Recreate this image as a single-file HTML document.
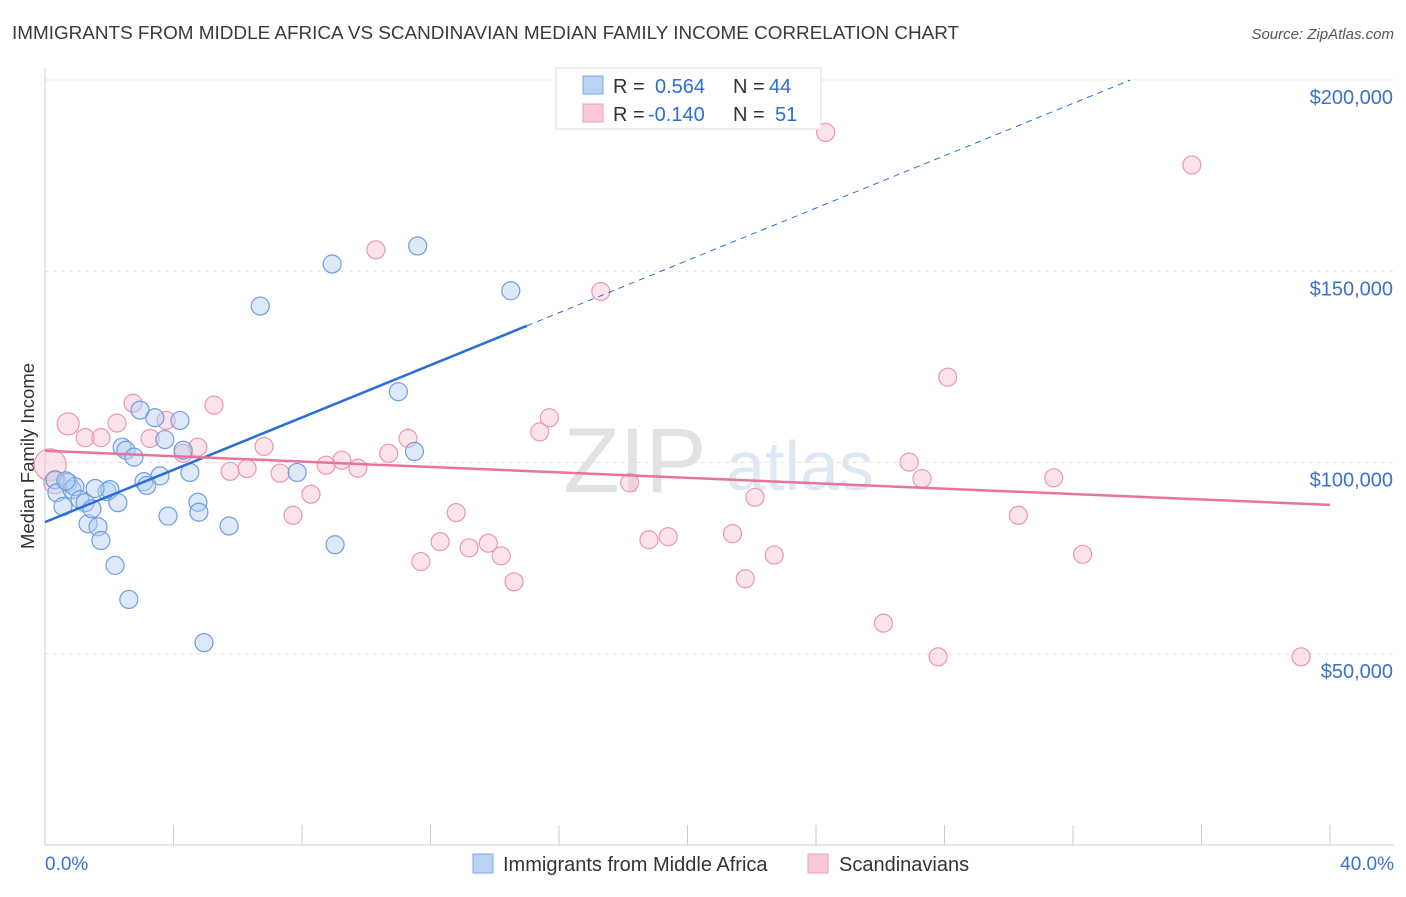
<!DOCTYPE html>
<html><head><meta charset="utf-8"><style>
body{margin:0;background:#fff;font-family:"Liberation Sans",sans-serif;}
svg text{font-family:"Liberation Sans",sans-serif;}
</style></head><body>
<svg id="chart" width="1406" height="892" xmlns="http://www.w3.org/2000/svg">
<text x="12" y="39" font-size="18.9" fill="#3a3a3a">IMMIGRANTS FROM MIDDLE AFRICA VS SCANDINAVIAN MEDIAN FAMILY INCOME CORRELATION CHART</text>
<text x="1394" y="39" font-size="15" fill="#555" text-anchor="end" font-style="italic">Source: ZipAtlas.com</text>
<g id="grid"></g>
<text x="635" y="492" font-size="92" fill="#e2e2e2" font-family="Liberation Serif" text-anchor="middle">ZIP</text>
<text x="800" y="490" font-size="70" fill="#dde8f5" text-anchor="middle">atlas</text>
<g id="ticks"></g>
<line x1="45" y1="68" x2="45" y2="845" stroke="#ccc"/>
<line x1="45" y1="845" x2="1394" y2="845" stroke="#ccc"/>
<g id="xt"></g>
<text x="45" y="870" font-size="19" fill="#3a73c9">0.0%</text>
<text x="1394" y="870" font-size="19" fill="#3a73c9" text-anchor="end">40.0%</text>
<text transform="translate(34,456) rotate(-90)" font-size="18.5" fill="#333" text-anchor="middle">Median Family Income</text>
<g id="pts"></g>
<g id="lines"></g>
<g>
<rect x="556" y="68" width="265" height="61" fill="#fff" stroke="#ddd"/>
<rect x="583" y="76" width="20" height="18" fill="#b9d3f5" stroke="#7ea7e3"/>
<rect x="583" y="104" width="20" height="18" fill="#fbc9d7" stroke="#ee9fb8"/>
<text x="613" y="93" font-size="20" fill="#333">R =</text>
<text x="655" y="93" font-size="20" fill="#2a6fd6">0.564</text>
<text x="733" y="93" font-size="20" fill="#333">N =</text>
<text x="769" y="93" font-size="20" fill="#2a6fd6">44</text>
<text x="613" y="121" font-size="20" fill="#333">R =</text>
<text x="648" y="121" font-size="20" fill="#2a6fd6">-0.140</text>
<text x="733" y="121" font-size="20" fill="#333">N =</text>
<text x="775" y="121" font-size="20" fill="#2a6fd6">51</text>
</g>
<g>
<rect x="473" y="854" width="20" height="19" fill="#b9d3f5" stroke="#7ea7e3"/>
<text x="503" y="871" font-size="20" fill="#333">Immigrants from Middle Africa</text>
<rect x="808" y="854" width="20" height="19" fill="#fbc9d7" stroke="#ee9fb8"/>
<text x="839" y="871" font-size="20" fill="#333">Scandinavians</text>
</g>
</svg>
<script>
const yTicks=[50000,100000,150000,200000];
const yTickLabels=["$50,000","$100,000","$150,000","$200,000"];
const blueX=[0.31,0.37,0.56,0.72,0.84,0.93,1.09,1.25,1.34,1.46,1.65,1.74,1.93,2.02,2.18,2.27,2.40,2.52,2.61,2.77,2.96,3.08,3.17,3.42,3.58,3.73,3.83,4.20,4.30,4.51,4.76,4.79,4.95,5.73,6.70,7.85,8.94,9.03,11.0,11.5,11.6,14.5,0.65,1.56];
const blueY=[95500,92100,88500,94800,92900,93700,90300,89500,84000,87900,83200,79600,92400,92900,73100,89500,104000,103200,64200,101400,113700,95000,94000,111700,96500,106000,86000,111000,103200,97400,89600,87000,52900,83400,140900,97400,151900,78500,118500,102900,156600,144900,95200,93200];
const pinkX=[0.16,0.31,0.72,1.25,1.74,2.24,2.74,3.27,3.77,4.30,4.76,5.26,5.76,6.29,6.82,7.32,7.72,8.28,8.75,9.24,9.74,10.3,10.7,11.3,11.7,12.3,12.8,13.2,13.8,14.2,14.6,15.4,15.7,17.3,18.2,18.8,19.4,21.4,21.8,22.1,22.7,24.3,26.1,26.9,27.3,27.8,28.1,30.3,31.4,32.3,35.7,39.1];
const pinkY=[99400,94700,110100,106500,106500,110300,115500,106300,111000,102400,104000,115000,97700,98400,104200,97200,86200,91700,99300,100600,98500,155600,102400,106300,74100,79300,86900,77700,78900,75600,68800,108000,111700,144700,94700,79800,80600,81400,69600,90900,75800,186300,58000,100100,95800,49200,122300,86200,96000,76000,177800,49200];
const SVGNS="http://www.w3.org/2000/svg";
const X0=45,X1=1330,Y0=845,Y1=80;
function sx(v){return X0+(v/40)*(X1-X0);}
function sy(v){return Y0-(v/200000)*(Y0-Y1);}
function mk(tag,attrs,parent){const e=document.createElementNS(SVGNS,tag);for(const k in attrs)e.setAttribute(k,attrs[k]);parent.appendChild(e);return e;}
const grid=document.getElementById('grid'),ticks=document.getElementById('ticks'),xt=document.getElementById('xt');
yTicks.forEach((t,i)=>{
 const l=mk('line',{x1:45,x2:1394,y1:sy(t),y2:sy(t),stroke:'#e2e2e2','stroke-dasharray':'4,4'},grid);
 
 
 const tx=mk('text',{x:1393,y:sy(t)+24,'font-size':20,fill:'#3a73c9','text-anchor':'end'},ticks);
 tx.textContent=yTickLabels[i];
 
 
});
for(let i=0;i<=10;i++){
 const l=mk('line',{x1:sx(i*4),x2:sx(i*4),y1:825,y2:845,stroke:'#ccc'},xt);
 
 
}
const pts=document.getElementById('pts');
function dots(xs,ys,fill,stroke,name){
 xs.forEach((x,i)=>{
  const r=(i===0&&name==='pink-point')?16:(x<1&&name==='pink-point'?11:9);
  const c=mk('circle',{cx:sx(x),cy:sy(ys[i]),r:r,fill:fill,'fill-opacity':0.45,stroke:stroke,'stroke-width':1.2},pts);
  
  
 });
}
dots(pinkX,pinkY,'#f8bfd0','#e997b0','pink-point');
dots(blueX,blueY,'#b4cef2','#6f9ee0','blue-point');
function fit(xs,ys){const n=xs.length;let mx=0,my=0;xs.forEach((x,i)=>{mx+=x;my+=ys[i];});mx/=n;my/=n;let a=0,b=0;xs.forEach((x,i)=>{a+=(x-mx)*(ys[i]-my);b+=(x-mx)**2;});const s=a/b;return [s,my-s*mx];}
const lines=document.getElementById('lines');
const [bs,bi]=fit(blueX,blueY);
const xEnd=15;
let l1=mk('line',{x1:sx(0),y1:sy(bi),x2:sx(xEnd),y2:sy(bi+bs*xEnd),stroke:'#2a6fd6','stroke-width':2.5},lines);


const xTop=Math.min(40,(200000-bi)/bs);
let l2=mk('line',{x1:sx(xEnd),y1:sy(bi+bs*xEnd),x2:sx(xTop),y2:sy(bi+bs*xTop),stroke:'#2a6fd6','stroke-width':1,'stroke-dasharray':'6,5'},lines);


const [ps,pi]=fit(pinkX,pinkY);
let l3=mk('line',{x1:sx(0),y1:sy(pi),x2:sx(40),y2:sy(pi+ps*40),stroke:'#e8739c','stroke-width':2.5},lines);


</script>
</body></html>
